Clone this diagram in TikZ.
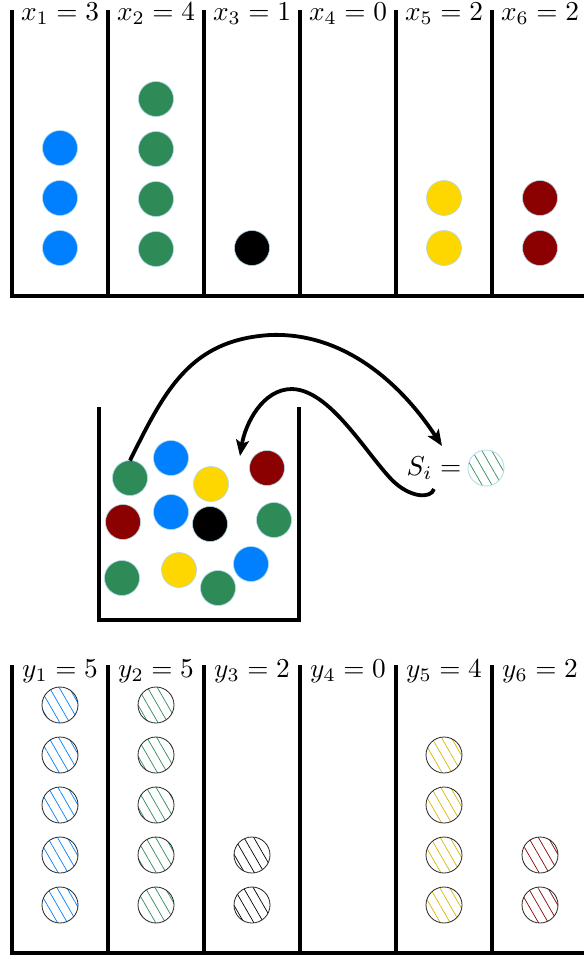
\documentclass[tikz,border=0pt]{standalone}
\usetikzlibrary{patterns.meta,arrows.meta}
\definecolor{cblue}{RGB}{0,128,255}
\definecolor{cgreen}{RGB}{46,139,87}
\definecolor{cyellow}{RGB}{255,215,0}
\definecolor{cred}{RGB}{139,0,0}
\definecolor{crim}{RGB}{173,216,230}
\begin{document}
\begin{tikzpicture}[x=1pt,y=-1pt,
  binline/.style={line width=3.5pt},
  ball/.style={circle, minimum size=35pt, inner sep=0pt, outer sep=0pt, draw=crim, line width=0.6pt},
  hball/.style={circle, minimum size=36pt, inner sep=0pt, outer sep=0pt, draw=black!85, line width=0.8pt,
     pattern={Lines[angle=-60,distance=8.5pt,line width=0.7pt]}},
  lab/.style={scale=2.73, anchor=base, inner sep=0pt},
  arr/.style={line width=3.8pt, -{Stealth[length=16pt,width=13pt,inset=3.5pt]}}]
\useasboundingbox (0,0) rectangle (584,959);
% ---------- top bins ----------
\draw[binline] (12,10) -- (12,296) -- (584,296);
\foreach \xx in {108,204,300,396,492} \draw[binline] (\xx,10) -- (\xx,296);
\node[lab] (lx1) at (60,20.5) {$x_1 = 3$};
\node[lab] (lx2) at (156,20.5) {$x_2 = 4$};
\node[lab] (lx3) at (252,20.5) {$x_3 = 1$};
\node[lab] (lx4) at (348,20.5) {$x_4 = 0$};
\node[lab] (lx5) at (444,20.5) {$x_5 = 2$};
\node[lab] (lx6) at (540,20.5) {$x_6 = 2$};
% balls
\foreach \yy/\n in {148/a,198/b,248/c} \node[ball, fill=cblue] (t1\n) at (60,\yy) {};
\foreach \yy/\n in {99/a,149/b,199/c,249/d} \node[ball, fill=cgreen] (t2\n) at (156,\yy) {};
\node[ball, fill=black] (t3a) at (252,248) {};
\foreach \yy/\n in {198/a,248/b} \node[ball, fill=cyellow] (t5\n) at (444,\yy) {};
\foreach \yy/\n in {198/a,248/b} \node[ball, fill=cred] (t6\n) at (540,\yy) {};
% ---------- bucket ----------
\draw[binline] (99,407) -- (99,620) -- (299,620) -- (299,407);
\node[ball, fill=cgreen]  (b1)  at (130,478) {};
\node[ball, fill=cblue]   (b2)  at (171,458) {};
\node[ball, fill=cyellow] (b3)  at (211,484) {};
\node[ball, fill=cred]    (b4)  at (267,468) {};
\node[ball, fill=cred]    (b5)  at (123,522) {};
\node[ball, fill=cblue]   (b6)  at (171,512) {};
\node[ball, fill=black]   (b7)  at (210,524) {};
\node[ball, fill=cgreen]  (b8)  at (274,520) {};
\node[ball, fill=cgreen]  (b9)  at (122,578) {};
\node[ball, fill=cyellow] (b10) at (179,570) {};
\node[ball, fill=cgreen]  (b11) at (218,588) {};
\node[ball, fill=cblue]   (b12) at (251,564) {};
% ---------- S_i ----------
\node[lab] (si) at (434,475) {$S_i =$};
\node[hball, draw=crim, pattern color=cgreen] (sball) at (486,468) {};
\coordinate (a1end) at (442,446);
\coordinate (a2start) at (434,489);
\coordinate (a2end) at (240,456);
\draw[arr] (b1.north) .. controls (165,390) and (190,340) .. (270,335)
   .. controls (345,332) and (402,385) .. (a1end);
\draw[arr] (a2start) .. controls (431,499) and (410,498) .. (392,480)
   .. controls (365,452) and (330,390) .. (292,389)
   .. controls (262,389) and (245,425) .. (a2end);
% ---------- bottom bins ----------
\draw[binline] (12,665) -- (12,953) -- (584,953);
\foreach \xx in {108,204,300,396,492} \draw[binline] (\xx,665) -- (\xx,953);
\node[lab] (ly1) at (60,677) {$y_1 = 5$};
\node[lab] (ly2) at (156,677) {$y_2 = 5$};
\node[lab] (ly3) at (252,677) {$y_3 = 2$};
\node[lab] (ly4) at (348,677) {$y_4 = 0$};
\node[lab] (ly5) at (444,677) {$y_5 = 4$};
\node[lab] (ly6) at (540,677) {$y_6 = 2$};
\foreach \yy/\n in {705/a,755/b,805/c,855/d,905/e} \node[hball, pattern color=cblue] (h1\n) at (60,\yy) {};
\foreach \yy/\n in {705/a,755/b,805/c,855/d,905/e} \node[hball, pattern color=cgreen] (h2\n) at (156,\yy) {};
\foreach \yy/\n in {855/d,905/e} \node[hball, pattern color=black] (h3\n) at (252,\yy) {};
\foreach \yy/\n in {755/b,805/c,855/d,905/e} \node[hball, pattern color=cyellow!85!black] (h5\n) at (444,\yy) {};
\foreach \yy/\n in {855/d,905/e} \node[hball, pattern color=cred] (h6\n) at (540,\yy) {};
\end{tikzpicture}
\end{document}
